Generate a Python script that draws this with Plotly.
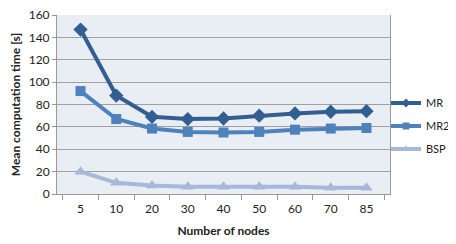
import plotly.graph_objects as go

nodes = ["5", "10", "20", "30", "40", "50", "60", "70", "85"]
mr = [147, 88, 69, 67, 67.5, 70, 72, 73.5, 74]
mr2 = [92, 67, 58.5, 55.5, 55, 55.5, 57.5, 58.5, 59]
bsp = [20, 10, 7.5, 6.5, 6.5, 6.5, 6.5, 5.5, 5.5]
y_ticks = [0, 20, 40, 60, 80, 100, 120, 140, 160]

series = [
    ("MR", mr, "#335E92", "diamond", 11),
    ("MR2", mr2, "#4F81BD", "square", 10),
    ("BSP", bsp, "#A7B9D9", "triangle-up", 11),
]

font = "Lato, Noto Sans, sans-serif"

fig = go.Figure()
for name, vals, color, sym, size in series:
    fig.add_trace(go.Scatter(x=nodes, y=vals, name=name, mode="lines+markers",
                             line=dict(color=color, width=4), showlegend=False,
                             marker=dict(symbol=sym, size=size, color=color)))
# legend entries (smaller markers as in the reference legend)
for name, vals, color, sym, size in series:
    fig.add_trace(go.Scatter(x=[nodes[0]], y=[None], name=name, mode="lines+markers",
                             legendgroup=name,
                             line=dict(color=color, width=4),
                             marker=dict(symbol=sym, size=7, color=color)))

fig.update_layout(
    width=448, height=236,
    margin=dict(l=49, r=66, t=7, b=50, autoexpand=False),
    paper_bgcolor="white",
    plot_bgcolor="#E9EDF4",
    font=dict(family=font, size=12, color="#222"),
    legend=dict(x=0.988, y=0.38, xanchor="left", yanchor="middle",
                bgcolor="rgba(0,0,0,0)", font=dict(size=11),
                itemwidth=30, tracegroupgap=4, traceorder="grouped"),
    xaxis=dict(type="category", automargin=False,
               title=dict(text="<b>Number of nodes</b>", font=dict(size=12), standoff=11),
               showgrid=False, showline=True, linecolor="#999", linewidth=1,
               ticks="outside", tickson="boundaries", ticklen=5, tickcolor="#999",
               ticklabelstandoff=4, tickfont=dict(size=12)),
    yaxis=dict(automargin=False, ticklabeloverflow="allow",
               title=dict(text="<b>Mean computation time [s]</b>", font=dict(size=12), standoff=6),
               range=[0, 160], tickvals=y_ticks, showgrid=True, gridcolor="#A0A0A0",
               gridwidth=1, showline=True, linecolor="#999", mirror=True,
               ticks="outside", ticklen=4, tickcolor="#999", zeroline=False,
               tickfont=dict(size=12)),
)

fig.write_html("out.html")
